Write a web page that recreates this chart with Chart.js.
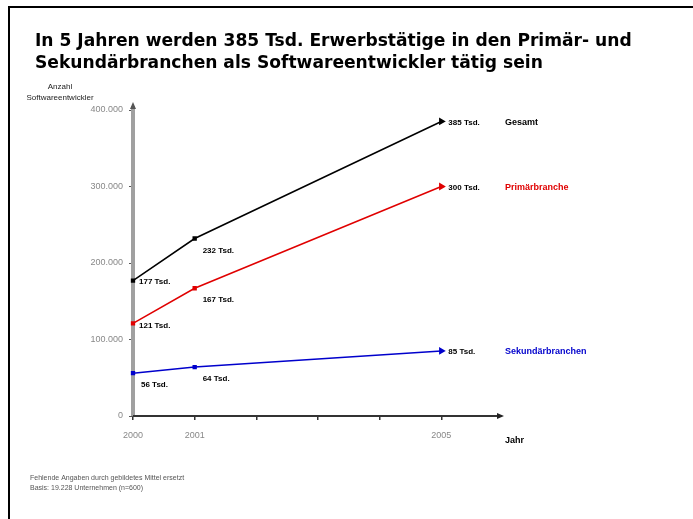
<!DOCTYPE html>
<html>
<head>
<meta charset="utf-8">
<script src="https://cdn.jsdelivr.net/npm/chart.js@4.4.1/dist/chart.umd.min.js"></script>
<style>
  body { margin: 0; background: #fff; }
  #wrap { position: relative; width: 693px; height: 519px; }
</style>
</head>
<body>
<div id="wrap"><canvas id="chart" width="693" height="519"></canvas></div>
<script>
// Daten
const jahre = [2000, 2001, 2005];
const gesamt = [177000, 232000, 385000];
const primaer = [121000, 167000, 300000];
const sekundaer = [56000, 64000, 85000];
const gesamtLabels = ["177 Tsd.", "232 Tsd.", "385 Tsd."];
const primaerLabels = ["121 Tsd.", "167 Tsd.", "300 Tsd."];
const sekundaerLabels = ["56 Tsd.", "64 Tsd.", "85 Tsd."];
const serienNamen = ["Gesamt", "Primärbranche", "Sekundärbranchen"];
const xTickLabels = { 2000: "2000", 2001: "2001", 2005: "2005" };

const titel1 = "In 5 Jahren werden 385 Tsd. Erwerbstätige in den Primär- und";
const titel2 = "Sekundärbranchen als Softwareentwickler tätig sein";

function punkte(werte) {
  return werte.map((v, i) => ({ x: jahre[i], y: v }));
}

function datensatz(name, werte, labels, farbe) {
  return {
    label: name,
    data: punkte(werte),
    labelsTsd: labels,
    borderColor: farbe,
    backgroundColor: farbe,
    borderWidth: 1.5,
    pointStyle: ["rect", "rect", "triangle"],
    pointRotation: [0, 0, 90],
    pointRadius: [2, 2, 3],
    tension: 0
  };
}

// Achsen und Pfeile unter den Linien zeichnen
const achsen = {
  id: "achsen",
  beforeDatasetsDraw(chart) {
    const ctx = chart.ctx;
    const xs = chart.scales.x;
    const ys = chart.scales.y;
    const x0 = xs.getPixelForValue(2000);
    const xEnd = xs.getPixelForValue(2006);
    const y0 = ys.getPixelForValue(0);
    const yTop = ys.getPixelForValue(400000) - 8;

    ctx.save();
    // Rahmen oben und links
    ctx.strokeStyle = "#000";
    ctx.lineWidth = 2;
    ctx.beginPath();
    ctx.moveTo(9, 519);
    ctx.lineTo(9, 7);
    ctx.lineTo(693, 7);
    ctx.stroke();

    // y-Achse (grau, dick)
    ctx.strokeStyle = "#a0a0a0";
    ctx.lineWidth = 4;
    ctx.beginPath();
    ctx.moveTo(x0, y0);
    ctx.lineTo(x0, yTop + 4);
    ctx.stroke();
    ctx.fillStyle = "#555";
    ctx.beginPath();
    ctx.moveTo(x0, yTop);
    ctx.lineTo(x0 - 3, yTop + 7);
    ctx.lineTo(x0 + 3, yTop + 7);
    ctx.closePath();
    ctx.fill();

    // x-Achse
    ctx.strokeStyle = "#333";
    ctx.lineWidth = 2;
    ctx.beginPath();
    ctx.moveTo(x0, y0);
    ctx.lineTo(xEnd - 4, y0);
    ctx.stroke();
    ctx.fillStyle = "#222";
    ctx.beginPath();
    ctx.moveTo(xEnd + 1, y0);
    ctx.lineTo(xEnd - 6, y0 - 3);
    ctx.lineTo(xEnd - 6, y0 + 3);
    ctx.closePath();
    ctx.fill();
    ctx.restore();
  }
};

// Texte zeichnen
const texte = {
  id: "texte",
  afterDraw(chart) {
    const ctx = chart.ctx;
    ctx.save();

    // Titel, Breite an Vorlage angepasst
    ctx.fillStyle = "#000";
    ctx.textAlign = "left";
    ctx.textBaseline = "alphabetic";
    ctx.font = "bold 16px 'DejaVu Sans', sans-serif";
    let w = ctx.measureText(titel1).width;
    let size = 16 * 597 / w;
    ctx.font = "bold " + size.toFixed(2) + "px 'DejaVu Sans', sans-serif";
    ctx.fillText(titel1, 35, 46);
    ctx.fillText(titel2, 35, 68);

    // Achsentitel
    ctx.font = "8px 'Liberation Sans', Arial, sans-serif";
    ctx.fillStyle = "#222";
    ctx.textAlign = "center";
    ctx.fillText("Anzahl", 60, 89);
    ctx.fillText("Softwareentwickler", 60, 100);
    ctx.font = "bold 9px 'Liberation Sans', Arial, sans-serif";
    ctx.textAlign = "left";
    ctx.fillStyle = "#000";
    ctx.fillText("Jahr", 505, 443);

    // Fußnote
    ctx.font = "7px 'Liberation Sans', Arial, sans-serif";
    ctx.fillStyle = "#555";
    ctx.fillText("Fehlende Angaben durch gebildetes Mittel ersetzt", 30, 480);
    ctx.fillText("Basis: 19.228 Unternehmen (n=600)", 30, 490);

    // Datenlabels und Seriennamen
    chart.data.datasets.forEach((ds, di) => {
      const meta = chart.getDatasetMeta(di);
      ctx.font = "bold 8px 'Liberation Sans', Arial, sans-serif";
      ctx.fillStyle = "#000";
      ctx.textAlign = "left";
      ctx.textBaseline = "middle";
      meta.data.forEach((pt, i) => {
        let dx = 6, dy = 1;
        if (i === 1 || (i === 0 && di === 2)) { dx = 8; dy = 12; }
        if (i === 0 && di === 1) dy = 2;
        if (i === 2) dx = 7;
        ctx.fillText(ds.labelsTsd[i], pt.x + dx, pt.y + dy);
      });
      const last = meta.data[meta.data.length - 1];
      ctx.font = "bold 9px 'Liberation Sans', Arial, sans-serif";
      ctx.fillStyle = ds.borderColor;
      ctx.fillText(serienNamen[di], 505, last.y + 1);
    });
    ctx.restore();
  }
};

const ctx = document.getElementById("chart").getContext("2d");
const chart = new Chart(ctx, {
  type: "line",
  data: {
    datasets: [
      datensatz(serienNamen[0], gesamt, gesamtLabels, "#000000"),
      datensatz(serienNamen[1], primaer, primaerLabels, "#e00000"),
      datensatz(serienNamen[2], sekundaer, sekundaerLabels, "#0000cc")
    ]
  },
  options: {
    responsive: false,
    animation: false,
    clip: false,
    layout: { padding: { left: 0, right: 190, top: 110, bottom: 0 } },
    plugins: { legend: { display: false }, tooltip: { enabled: false } },
    scales: {
      x: {
        type: "linear",
        min: 2000,
        max: 2006,
        afterFit(scale) { scale.height = 103; },
        border: { display: false },
        grid: {
          drawOnChartArea: false,
          tickLength: 4,
          color: c => (c.tick && c.tick.value === 2006) ? "rgba(0,0,0,0)" : "#333",
          lineWidth: 1.5
        },
        ticks: {
          stepSize: 1,
          autoSkip: false,
          maxRotation: 0,
          padding: 10,
          color: "#888",
          font: { size: 9, family: "'Liberation Sans', Arial, sans-serif" },
          callback: v => xTickLabels[v] || ""
        }
      },
      y: {
        min: 0,
        max: 400000,
        afterFit(scale) { scale.width = 133; },
        border: { display: false },
        grid: { drawOnChartArea: false, tickLength: 4, color: "#555" },
        ticks: {
          stepSize: 100000,
          padding: 6,
          color: "#888",
          font: { size: 9, family: "'Liberation Sans', Arial, sans-serif" },
          callback: v => v === 0 ? "0" : v.toLocaleString("de-DE")
        }
      }
    }
  },
  plugins: [achsen, texte]
});
</script>
</body>
</html>
